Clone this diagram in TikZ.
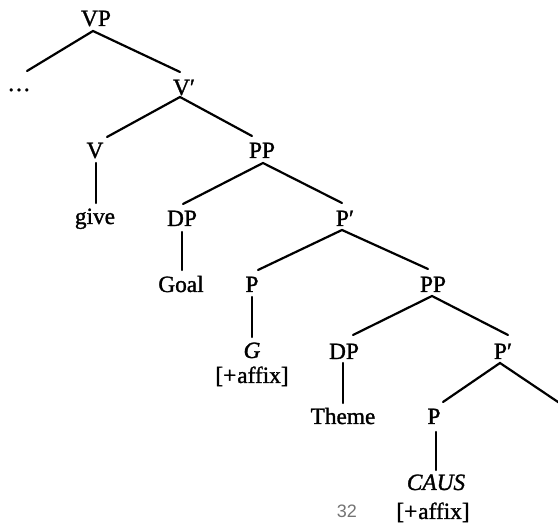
\documentclass[tikz,border=0pt]{standalone}
\usepackage{fontspec}
\setmainfont{Liberation Serif}[FakeBold=1.3,ItalicFeatures={FakeBold=1.3}]
\newfontfamily\pagefont{Liberation Sans}
\usetikzlibrary{calc}
\begin{document}
\begin{tikzpicture}[x=1pt,y=-1pt,
  lab/.style={anchor=base,inner sep=0pt,font=\fontsize{23.3}{26}\selectfont},
  branch/.style={line width=2.2pt,line cap=round}]
\useasboundingbox (0,0) rectangle (558,526);
% labels
\node[lab] (VP) at (96,26) {VP};
\node[lab] (dots) at (19,91) {\ldots};
\node[lab] (Vb) at (184,95) {V′};
\node[lab] (V) at (95,158) {V};
\node[lab] (PP1) at (262,158) {PP};
\node[lab] (give) at (95,224) {give};
\node[lab] (DP1) at (182,226) {DP};
\node[lab] (Pb1) at (345,226) {P′};
\node[lab] (Goal) at (181,292) {Goal};
\node[lab] (P1) at (252,292) {P};
\node[lab] (PP2) at (433,292) {PP};
\node[lab] (G) at (252,358) {\itshape G};
\node[lab] (aff1) at (252,383) {[+\kern1pt affix]};
\node[lab] (DP2) at (344,359) {DP};
\node[lab] (Pb2) at (503,359) {P′};
\node[lab] (Theme) at (343,424) {Theme};
\node[lab] (P2) at (434,424) {P};
\node[lab] (CAUS) at (436,490) {\itshape CAUS};
\node[lab] (aff2) at (433,519) {[+\kern1pt affix]};
\coordinate (offR) at (561,404);
\node[anchor=base,inner sep=0pt,text=black!55,font=\pagefont\fontsize{18}{20}\selectfont] (pg) at (347,518) {32};
% branches
\draw[branch] ($(dots.base)+(8,-20)$) -- ($(VP.base)+(-3,5)$) -- ($(Vb.base)+(-4,-23)$);
\draw[branch] ($(V.base)+(12,-21)$) -- ($(Vb.base)+(-4,2)$) -- ($(PP1.base)+(-10,-22)$);
\draw[branch] ($(DP1.base)+(1,-22)$) -- ($(PP1.base)+(1,5)$) -- ($(Pb1.base)+(-3,-23)$);
\draw[branch] ($(P1.base)+(6,-22)$) -- ($(Pb1.base)+(-3,4)$) -- ($(PP2.base)+(-5,-23)$);
\draw[branch] ($(DP2.base)+(9,-24)$) -- ($(PP2.base)+(-1,4)$) -- ($(Pb2.base)+(5,-24)$);
\draw[branch] ($(P2.base)+(9,-22)$) -- ($(Pb2.base)+(-3,4)$) -- (offR);
\draw[branch] ($(V.base)+(1,5)$) -- ($(give.base)+(1,-21)$);
\draw[branch] ($(DP1.base)+(0,6)$) -- ($(Goal.base)+(1,-22)$);
\draw[branch] ($(P1.base)+(0,5)$) -- ($(G.base)+(0,-21)$);
\draw[branch] ($(DP2.base)+(-1,4)$) -- ($(Theme.base)+(0,-21)$);
\draw[branch] ($(P2.base)+(2,8)$) -- ($(CAUS.base)+(0,-20)$);
\end{tikzpicture}
\end{document}
